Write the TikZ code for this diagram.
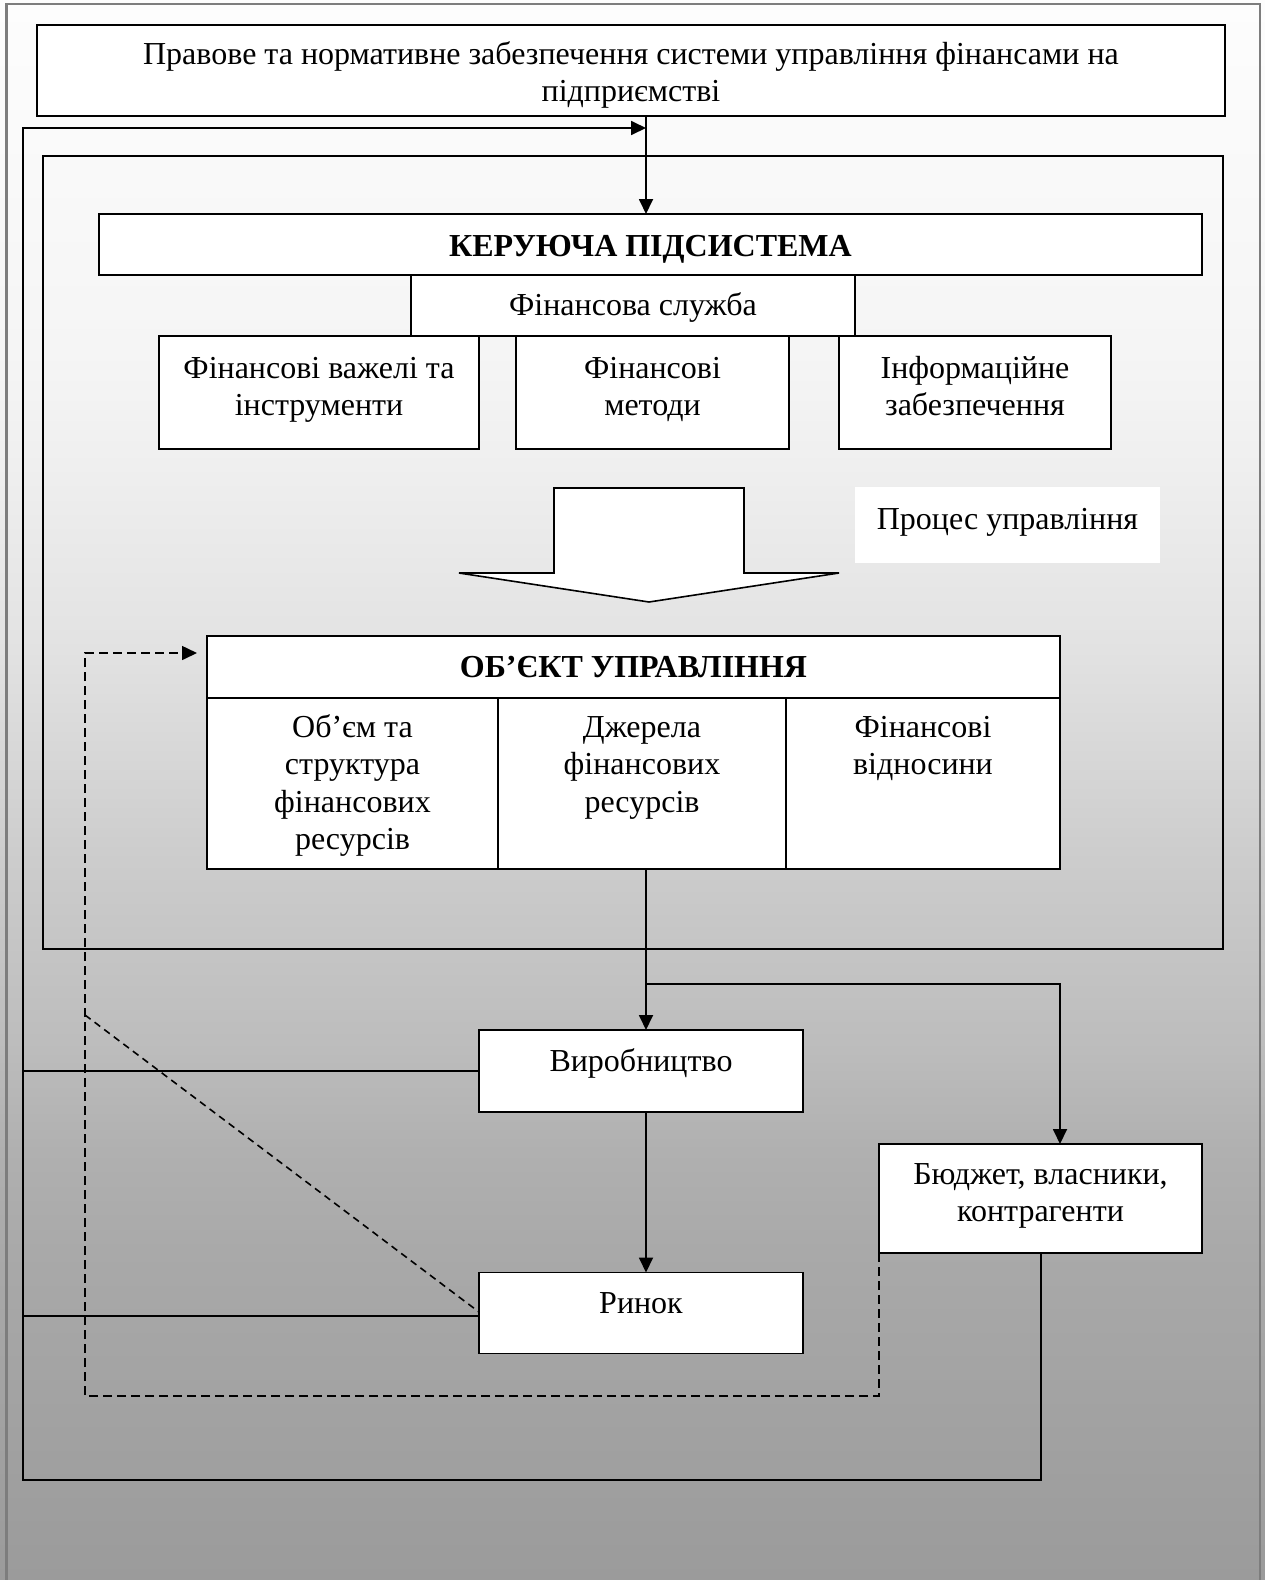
\documentclass[tikz,border=0pt]{standalone}
\usepackage{fontspec}
\setmainfont{Liberation Serif}
\usetikzlibrary{arrows.meta,calc}
\definecolor{bdr}{RGB}{125,125,125}
\definecolor{ga}{RGB}{253,253,253}
\definecolor{gb}{RGB}{245,245,245}
\definecolor{gc}{RGB}{240,240,240}
\definecolor{gd}{RGB}{226,226,226}
\definecolor{ge}{RGB}{205,205,205}
\definecolor{gf}{RGB}{188,188,188}
\definecolor{gg}{RGB}{176,176,176}
\definecolor{gh}{RGB}{169,169,169}
\definecolor{gi}{RGB}{155,155,155}
\newcommand\btx[4]{\parbox[c][#2][t]{#1}{\centering\rule{0pt}{#3}#4\par}}
\begin{document}
\begin{tikzpicture}[x=1pt,y=-1pt,
  box/.style={draw, line width=1.8pt, fill=white, inner sep=0pt, outer sep=0pt, font=\fontsize{32}{37.5}\selectfont},
  conn/.style={line width=1.8pt},
  arr/.style={conn,-{Triangle[length=15pt,width=14pt]}},
  dashln/.style={line width=1.6pt, dash pattern=on 9pt off 5pt},
  dashdg/.style={line width=1.6pt, dash pattern=on 7pt off 5pt}]
\useasboundingbox (0,0) rectangle (1265,1580);
\begin{scope}
  \clip (0,0) rectangle (1265,1580);
  \shade[top color=ga, bottom color=gb] (0,0) rectangle (1265,351);
  \shade[top color=gb, bottom color=gc] (0,350) rectangle (1265,451);
  \shade[top color=gc, bottom color=gd] (0,450) rectangle (1265,651);
  \shade[top color=gd, bottom color=ge] (0,650) rectangle (1265,851);
  \shade[top color=ge, bottom color=gf] (0,850) rectangle (1265,1051);
  \shade[top color=gf, bottom color=gg] (0,1050) rectangle (1265,1151);
  \shade[top color=gg, bottom color=gh] (0,1150) rectangle (1265,1251);
  \shade[top color=gh, bottom color=gi] (0,1250) rectangle (1265,1580);
  \draw[bdr, line width=2.5pt] (6.5,1600) -- (6.5,4) -- (1260,4) -- (1260,1600);
\end{scope}

% boxes
\node[box] (top) at (631,70.5) {\btx{1188pt}{91pt}{39pt}{Правове та нормативне забезпечення системи управління фінансами на\\підприємстві}};
\node[draw, line width=1.8pt, inner sep=0pt, minimum width=1180pt, minimum height=793pt] (frame) at (633,552.5) {};
\node[box] (ker) at (650.5,244.5) {\btx{1103pt}{61pt}{42pt}{\textbf{КЕРУЮЧА ПІДСИСТЕМА}}};
\node[box] (fs) at (633,305.5) {\btx{444pt}{61pt}{40pt}{Фінансова служба}};
\node[box] (ba) at (319,392.5) {\btx{320pt}{113pt}{42pt}{Фінансові важелі та\\інструменти}};
\node[box] (bb) at (652.5,392.5) {\btx{273pt}{113pt}{42pt}{Фінансові\\методи}};
\node[box] (bc) at (975,392.5) {\btx{272pt}{113pt}{42pt}{Інформаційне\\забезпечення}};
\node[box, draw=none] (proc) at (1007.5,525) {\btx{305pt}{76pt}{42pt}{Процес управління}};
\draw[line width=1.6pt, fill=white] (554,488) -- (744,488) -- (744,573) -- (839,573) -- (649,602) -- (459,573) -- (554,573) -- cycle;
\node[box] (objh) at (633.5,667) {\btx{853pt}{62pt}{41pt}{\textbf{ОБ’ЄКТ УПРАВЛІННЯ}}};
\node[box] (c1) at (352.5,783.5) {\btx{291pt}{171pt}{39pt}{Об’єм та\\структура\\фінансових\\ресурсів}};
\node[box] (c2) at (642,783.5) {\btx{288pt}{171pt}{39pt}{Джерела\\фінансових\\ресурсів}};
\node[box] (c3) at (923,783.5) {\btx{274pt}{171pt}{39pt}{Фінансові\\відносини}};
\node[box] (vyr) at (641,1071) {\btx{324pt}{82pt}{41pt}{Виробництво}};
\node[box] (ryn) at (641,1313) {\btx{324pt}{81pt}{41pt}{Ринок}};
\node[box] (bud) at (1040.5,1198.5) {\btx{323pt}{109pt}{40pt}{Бюджет, власники,\\контрагенти}};

% coordinates
\coordinate (mx) at (646,0);
\coordinate (fbB) at (1041,1480);
\coordinate (fbL) at (23,1480);
\coordinate (fbT) at (23,128);
\coordinate (fbE) at (646,128);
\coordinate (br) at (646,984);
\coordinate (brR) at (1060,984);
\coordinate (dB) at (85,1396);
\coordinate (dT) at (85,653);
\coordinate (dD) at (85,1015);

% connectors
\draw[arr] (top.south -| mx) -- (ker.north -| mx);
\draw[arr] (bud.south -| fbB) -- (fbB) -- (fbL) -- (fbT) -- (fbE);
\draw[conn] (vyr.west) -- (vyr.west -| fbL);
\draw[conn] ($(ryn.west)+(0,3)$) -- ($(ryn.west -| fbL)+(0,3)$);
\draw[arr] (c2.south -| mx) -- (vyr.north -| mx);
\draw[arr] (br) -- (brR) -- (bud.north -| brR);
\draw[arr] (vyr.south -| mx) -- (ryn.north -| mx);
\draw[dashln, -{Triangle[length=15pt,width=14pt]}, shorten >=10pt] (bud.south west) -- (bud.south west |- dB) -- (dB) -- (dT) -- (objh.west |- dT);
\draw[dashdg] (dD) -- ($(ryn.west)+(0,-1)$);
\end{tikzpicture}
\end{document}
